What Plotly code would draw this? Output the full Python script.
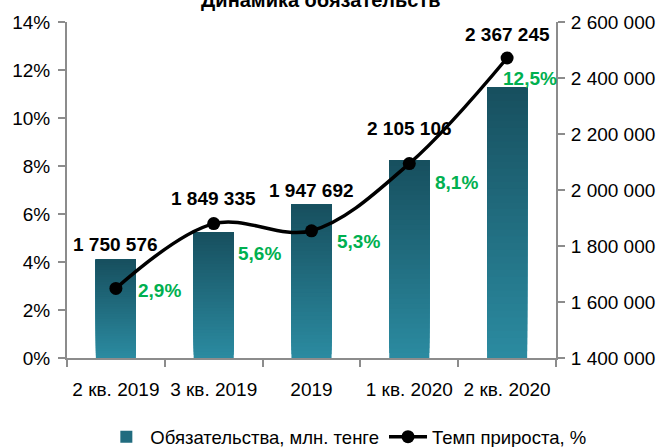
import plotly.graph_objects as go

categories = ["2 кв. 2019", "3 кв. 2019", "2019", "1 кв. 2020", "2 кв. 2020"]
liabilities = [1750576, 1849335, 1947692, 2105106, 2367245]
growth_pct = [2.9, 5.6, 5.3, 8.1, 12.5]

bar_name = "Обязательства, млн. тенге"
line_name = "Темп прироста, %"
title = "Динамика обязательств"

# styling / label offsets (pixels; dy positive = below the point)
value_label_shift = [15, 34, 14, 32, 53]
pct_label_dx = [44, 46, 47, 47, 23]
pct_label_dy = [2, 30, 11, 19, 20]

FONT = "Liberation Sans"
AX = "#8c8c8c"
BASE = 1400000
N = 40
top_rgb = (0x17, 0x4f, 0x5e)
bot_rgb = (0x2b, 0x8b, 0xa1)

def fmt_int(v):
    return f"{v:,}".replace(",", " ")

fig = go.Figure()

# gradient bars: overlapping layers, each from a higher start up to the bar's value
for i in range(N):
    t = (i + 0.5) / N
    c = tuple(round(bot_rgb[k] + (top_rgb[k] - bot_rgb[k]) * t) for k in range(3))
    bases = [BASE + (v - BASE) * i / N for v in liabilities]
    lens = [v - b for v, b in zip(liabilities, bases)]
    fig.add_trace(go.Bar(
        x=categories, y=lens, base=bases, width=0.41,
        marker=dict(color=f"rgb{c}", line=dict(width=0)),
        yaxis="y", name=bar_name, showlegend=(i == N // 2),
        hoverinfo="skip",
    ))

fig.add_trace(go.Scatter(
    x=categories, y=growth_pct, yaxis="y2", name=line_name,
    mode="lines+markers",
    line=dict(color="black", width=3.5, shape="spline", smoothing=1.0),
    marker=dict(color="black", size=13),
))

annotations = []
for idx, (v, s) in enumerate(zip(liabilities, value_label_shift)):
    annotations.append(dict(
        x=idx, y=v, xref="x", yref="y", text=f"<b>{fmt_int(v)}</b>",
        showarrow=False, yanchor="middle", yshift=s,
        font=dict(family=FONT, size=19, color="black"),
    ))
for idx, (p, dx, dy) in enumerate(zip(growth_pct, pct_label_dx, pct_label_dy)):
    annotations.append(dict(
        x=idx, y=p, xref="x", yref="y2", text=f"<b>{str(p).replace('.', ',')}%</b>",
        showarrow=False, xshift=dx, yshift=-dy, yanchor="middle",
        font=dict(family=FONT, size=19, color="#00B050"),
    ))

fig.update_layout(
    width=667, height=447,
    margin=dict(l=67, r=105, t=18, b=89),
    paper_bgcolor="white", plot_bgcolor="white",
    separators=", ",
    barmode="overlay",
    font=dict(family=FONT, size=19, color="black"),
    title=dict(text=f"<b>{title}</b>", x=0.481, xanchor="center",
               y=1.0, yref="container", yanchor="middle",
               font=dict(family=FONT, size=20, color="black")),
    xaxis=dict(
        type="category", range=[-0.5, 4.5],
        showline=True, linecolor=AX, linewidth=2,
        ticks="outside", tickson="boundaries", ticklen=7, tickcolor=AX, tickwidth=2,
        ticklabelstandoff=13, showgrid=False, zeroline=False,
        tickfont=dict(family=FONT, size=19),
    ),
    yaxis=dict(
        side="right", range=[BASE, 2600000], dtick=200000, tick0=BASE,
        tickformat=",d", showline=True, linecolor=AX, linewidth=2,
        ticks="outside", ticklen=7, tickcolor=AX, tickwidth=2,
        showgrid=False, zeroline=False, ticklabelstandoff=2,
        tickfont=dict(family=FONT, size=19),
    ),
    yaxis2=dict(
        side="left", overlaying="y", range=[0, 14], dtick=2,
        ticksuffix="%", showline=True, linecolor=AX, linewidth=2,
        ticks="outside", ticklen=7, tickcolor=AX, tickwidth=2,
        showgrid=False, zeroline=False, ticklabelstandoff=4,
        tickfont=dict(family=FONT, size=19),
    ),
    legend=dict(
        orientation="h", xref="container", yref="container",
        x=0.52, xanchor="center", y=0.022, yanchor="middle",
        font=dict(family=FONT, size=18.5), bgcolor="rgba(0,0,0,0)",
        itemwidth=38, tracegroupgap=0,
    ),
    annotations=annotations,
    hovermode=False,
)

fig.write_html("out.html")
